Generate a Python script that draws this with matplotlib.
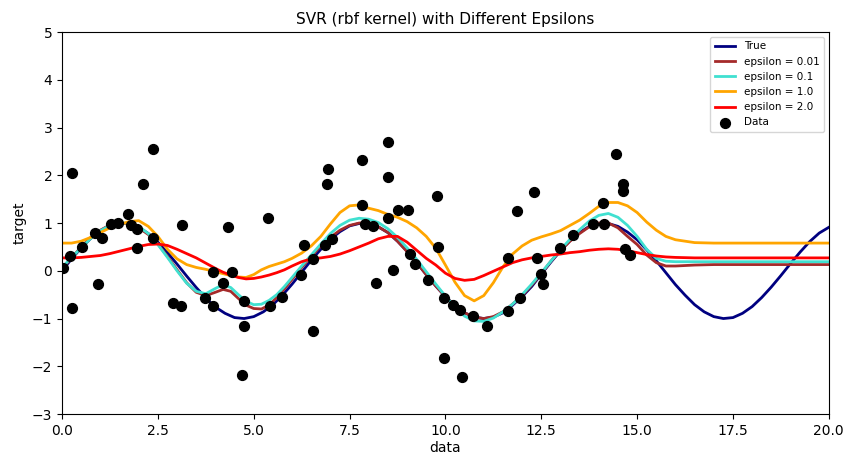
import matplotlib
matplotlib.use("Agg")
import matplotlib.pyplot as plt

# ---- data ----
data_x = [0.03, 0.26, 0.27, 0.2, 0.52, 0.85, 1.05, 0.94, 1.27, 1.45, 1.73, 1.8, 1.95, 1.96,
          2.12, 2.36, 2.37, 3.13, 2.9, 3.1, 3.73, 3.95, 3.93, 4.2, 4.33, 4.43, 4.74, 4.74,
          4.7, 5.37, 5.42, 5.75, 6.22, 6.3, 6.54, 6.55, 6.86, 7.04, 6.95, 6.9, 7.82, 7.82,
          7.9, 8.1, 8.5, 8.5, 8.5, 8.2, 8.63, 8.77, 9.02, 9.77, 9.8, 9.07, 9.2, 9.55, 9.97,
          10.2, 10.38, 10.72, 11.08, 9.96, 10.43, 11.63, 11.94, 11.63, 12.39, 12.54, 12.49,
          11.86, 12.3, 12.99, 13.32, 13.85, 14.14, 14.1, 14.45, 14.63, 14.63, 14.68, 14.81]
data_y = [0.06, 2.05, -0.77, 0.31, 0.5, 0.8, 0.68, -0.28, 0.98, 1.0, 1.19, 0.95, 0.88, 0.48,
          1.81, 2.55, 0.68, 0.96, -0.67, -0.73, -0.57, -0.73, -0.03, -0.26, 0.92, -0.02, -0.63, -1.16,
          -2.18, 1.11, -0.73, -0.55, -0.08, 0.55, -1.27, 0.25, 0.53, 0.66, 2.13, 1.82, 2.32, 1.37,
          0.99, 0.94, 2.7, 1.97, 1.1, -0.25, 0.01, 1.27, 1.27, 1.56, 0.49, 0.35, 0.15, -0.2, -0.57,
          -0.72, -0.82, -0.94, -1.15, -1.83, -2.22, -0.84, -0.56, 0.27, 0.27, -0.27, -0.06,
          1.26, 1.66, 0.48, 0.74, 0.98, 0.99, 1.42, 2.45, 1.82, 1.68, 0.46, 0.33]

true_x = [i * 0.25 for i in range(81)]
true_y = [0.00, 0.25, 0.48, 0.68, 0.84, 0.95, 1.00, 0.98, 0.91, 0.78, 0.60, 0.38, 0.14, -0.11,
          -0.35, -0.57, -0.76, -0.89, -0.98, -1.00, -0.96, -0.86, -0.71, -0.51, -0.28, -0.03,
          0.22, 0.45, 0.66, 0.82, 0.94, 0.99, 0.99, 0.92, 0.80, 0.62, 0.41, 0.17, -0.08, -0.32,
          -0.54, -0.73, -0.88, -0.97, -1.00, -0.97, -0.88, -0.72, -0.54, -0.33, -0.07, 0.18,
          0.42, 0.63, 0.80, 0.93, 0.99, 0.99, 0.93, 0.81, 0.65, 0.44, 0.21, -0.04, -0.29, -0.51,
          -0.71, -0.86, -0.96, -1.00, -0.98, -0.89, -0.75, -0.56, -0.34, -0.10, 0.15, 0.39,
          0.61, 0.79, 0.91]

e001_x = [0, 0.25, 0.5, 0.75, 1.0, 1.25, 1.5, 1.75, 2.0, 2.25, 2.5, 2.75, 3.0, 3.25, 3.5, 3.75,
          4.0, 4.2, 4.4, 4.6, 4.8, 5.0, 5.2, 5.4, 5.6, 5.8, 6.0, 6.25, 6.5, 6.75, 7.0, 7.25, 7.5,
          7.75, 8.0, 8.25, 8.5, 8.75, 9.0, 9.25, 9.5, 9.75, 10.0, 10.25, 10.5, 10.75, 11.0, 11.25,
          11.5, 11.75, 12.0, 12.25, 12.5, 12.75, 13.0, 13.25, 13.5, 13.75, 14.0, 14.25, 14.5,
          14.75, 15.0, 15.25, 15.5, 15.75, 16.0, 16.5, 17.0, 18.0, 20.0]
e001_y = [0.05, 0.27, 0.5, 0.7, 0.85, 0.96, 1.0, 0.98, 0.9, 0.76, 0.56, 0.3, 0.02, -0.25, -0.45,
          -0.52, -0.45, -0.39, -0.43, -0.58, -0.72, -0.79, -0.8, -0.72, -0.56, -0.38, -0.18, 0.07,
          0.3, 0.52, 0.7, 0.85, 0.95, 1.0, 0.99, 0.92, 0.8, 0.62, 0.4, 0.17, -0.08, -0.32, -0.54,
          -0.73, -0.88, -0.97, -1.0, -0.96, -0.86, -0.7, -0.52, -0.3, -0.06, 0.2, 0.42, 0.62,
          0.78, 0.92, 1.0, 1.0, 0.9, 0.72, 0.55, 0.33, 0.17, 0.1, 0.1, 0.12, 0.13, 0.13, 0.13]

e01_x = e001_x
e01_y = [0.07, 0.28, 0.48, 0.68, 0.84, 0.95, 1.0, 1.0, 0.93, 0.78, 0.55, 0.28, 0.0, -0.26, -0.43,
         -0.48, -0.37, -0.29, -0.35, -0.5, -0.64, -0.71, -0.7, -0.62, -0.5, -0.33, -0.14, 0.1,
         0.33, 0.56, 0.78, 0.95, 1.06, 1.1, 1.08, 1.01, 0.88, 0.7, 0.48, 0.24, -0.02, -0.28,
         -0.53, -0.76, -0.95, -1.05, -1.06, -0.99, -0.86, -0.7, -0.5, -0.28, -0.04, 0.2, 0.44,
         0.66, 0.86, 1.04, 1.16, 1.2, 1.12, 0.95, 0.72, 0.45, 0.26, 0.2, 0.19, 0.19, 0.19,
         0.19, 0.19]

e1_x = e001_x
e1_y = [0.58, 0.58, 0.62, 0.7, 0.8, 0.9, 0.97, 1.03, 1.05, 0.93, 0.72, 0.45, 0.25, 0.13, 0.07,
        0.03, -0.02, -0.06, -0.1, -0.13, -0.14, -0.08, 0.02, 0.09, 0.14, 0.19, 0.26, 0.37, 0.52,
        0.72, 0.98, 1.22, 1.36, 1.38, 1.31, 1.26, 1.18, 1.12, 1.03, 0.9, 0.72, 0.47, 0.12, -0.24,
        -0.52, -0.63, -0.52, -0.25, 0.08, 0.35, 0.52, 0.64, 0.71, 0.77, 0.84, 0.95, 1.06, 1.2,
        1.35, 1.43, 1.43, 1.36, 1.22, 1.02, 0.85, 0.72, 0.65, 0.59, 0.58, 0.58, 0.58]

e2_x = e001_x
e2_y = [0.27, 0.27, 0.28, 0.3, 0.32, 0.36, 0.41, 0.46, 0.51, 0.55, 0.56, 0.53, 0.45, 0.36, 0.27,
        0.16, 0.05, -0.03, -0.09, -0.14, -0.17, -0.16, -0.13, -0.09, -0.04, 0.02, 0.1, 0.19,
        0.25, 0.27, 0.3, 0.35, 0.42, 0.5, 0.58, 0.67, 0.72, 0.72, 0.6, 0.43, 0.26, 0.12, -0.05,
        -0.16, -0.2, -0.18, -0.1, -0.01, 0.08, 0.17, 0.23, 0.27, 0.3, 0.33, 0.35, 0.38, 0.4, 0.43,
        0.45, 0.46, 0.45, 0.42, 0.38, 0.34, 0.31, 0.29, 0.28, 0.27, 0.27, 0.27, 0.27]

fig = plt.figure(figsize=(8.44, 4.54), dpi=100)
ax = fig.add_axes([0.0735, 0.088, 0.9085, 0.8415])

ax.plot(true_x, true_y, color="navy", lw=2, label="True")
ax.plot(e001_x, e001_y, color="brown", lw=2, label="epsilon = 0.01")
ax.plot(e01_x, e01_y, color="turquoise", lw=2, label="epsilon = 0.1")
ax.plot(e1_x, e1_y, color="orange", lw=2, label="epsilon = 1.0")
ax.plot(e2_x, e2_y, color="red", lw=2, label="epsilon = 2.0")
ax.scatter(data_x, data_y, color="black", s=50, zorder=3, label="Data")

ax.set_xlim(0, 20)
ax.set_ylim(-3, 5)
ax.set_xticks([0, 2.5, 5, 7.5, 10, 12.5, 15, 17.5, 20])
ax.set_xticklabels(["0.0", "2.5", "5.0", "7.5", "10.0", "12.5", "15.0", "17.5", "20.0"])
ax.tick_params(labelsize=10)
ax.set_xlabel("data", fontsize=10, labelpad=2)
ax.set_ylabel("target", fontsize=10)
ax.set_title("SVR (rbf kernel) with Different Epsilons", fontsize=11)
ax.legend(loc="upper right", fontsize=7.5)

fig.savefig("out.png", dpi=100)
